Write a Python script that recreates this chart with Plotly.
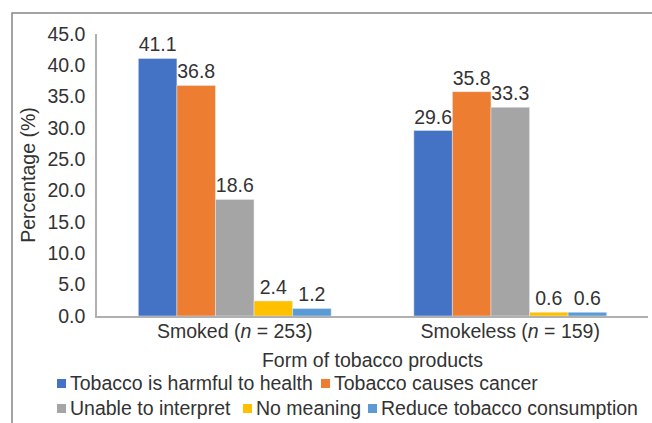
import plotly.graph_objects as go

categories = ["Smoked (<i>n</i> = 253)", "Smokeless (<i>n</i> = 159)"]
series_names = ["Tobacco is harmful to health", "Tobacco causes cancer",
                "Unable to interpret", "No meaning", "Reduce tobacco consumption"]
harmful = [41.1, 29.6]
cancer = [36.8, 35.8]
unable = [18.6, 33.3]
no_meaning = [2.4, 0.6]
reduce = [1.2, 0.6]
series_values = [harmful, cancer, unable, no_meaning, reduce]
colors = ["#4472C4", "#ED7D31", "#A5A5A5", "#FFC000", "#5B9BD5"]
y_ticks = [0, 5, 10, 15, 20, 25, 30, 35, 40, 45]

FONT = "Liberation Sans, Arial, sans-serif"
TXT = "#333333"
FS = 19.5

W, H = 652, 423
ML, MR, MT, MB = 97, 4, 34, 107
PW, PH = W - ML - MR, H - MT - MB

def px(x):
    return (x - ML) / PW

def py(y):
    return (H - MB - y) / PH

fig = go.Figure()
for name, vals, col in zip(series_names, series_values, colors):
    fig.add_trace(go.Bar(
        x=categories, y=vals, name=name, marker_color=col,
        text=[f"{v:.1f}" for v in vals], textposition="outside",
        textfont=dict(family=FONT, size=FS, color=TXT),
        cliponaxis=False, showlegend=False,
    ))

# frame around the chart (cropped at right/bottom)
shapes = [dict(type="rect", xref="paper", yref="paper",
               x0=px(12), x1=px(700), y0=py(500), y1=py(13),
               line=dict(color="#858585", width=1.5), fillcolor="rgba(0,0,0,0)", layer="below")]

# manual legend in two rows
legend_rows = [[0, 1], [2, 3, 4]]
row_y = [383, 408]
row_sq_x = [[57, 321], [57, 243, 368]]
annotations = []
for r, items in enumerate(legend_rows):
    for k, idx in enumerate(items):
        sx = row_sq_x[r][k]
        cy = row_y[r]
        shapes.append(dict(type="rect", xref="paper", yref="paper",
                           x0=px(sx), x1=px(sx + 9), y0=py(cy + 5), y1=py(cy - 4),
                           line=dict(width=0), fillcolor=colors[idx]))
        annotations.append(dict(xref="paper", yref="paper", x=px(sx + 11), y=py(cy),
                                xanchor="left", yanchor="middle", showarrow=False,
                                text=series_names[idx],
                                font=dict(family=FONT, size=FS, color=TXT)))

fig.update_layout(
    width=W, height=H,
    margin=dict(l=ML, r=MR, t=MT, b=MB, pad=0),
    paper_bgcolor="white", plot_bgcolor="white",
    barmode="group", bargap=0.30, bargroupgap=0,
    font=dict(family=FONT, size=FS, color=TXT),
    shapes=shapes, annotations=annotations,
    xaxis=dict(showline=True, linecolor="#b0b0b0", linewidth=1.5, ticks="",
               ticklabelstandoff=-3,
               tickfont=dict(family=FONT, size=FS, color=TXT),
               title=dict(text="Form of tobacco products", standoff=12,
                          font=dict(family=FONT, size=FS, color=TXT))),
    yaxis=dict(range=[0, 45], tickvals=y_ticks, tickformat=".1f",
               showgrid=False, zeroline=False, showline=True,
               linecolor="#b0b0b0", linewidth=1.5, ticks="", ticklabelstandoff=6,
               tickfont=dict(family=FONT, size=FS, color=TXT),
               title=dict(text="Percentage (%)", standoff=7,
                          font=dict(family=FONT, size=FS, color=TXT))),
)

fig.write_html("out.html")
